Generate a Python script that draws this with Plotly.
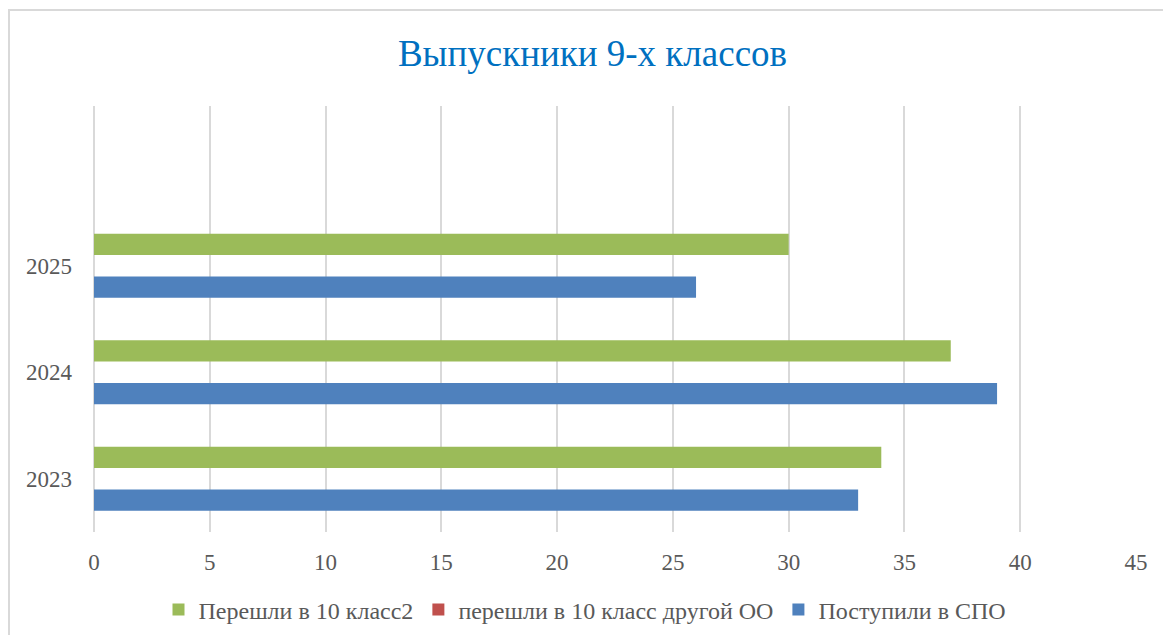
import plotly.graph_objects as go

years = ["2023", "2024", "2025"]
spo = [33, 39, 26]          # Поступили в СПО
other_oo = [0, 0, 0]        # перешли в 10 класс другой ОО
grade10 = [34, 37, 30]      # Перешли в 10 класс2

x_ticks = [0, 5, 10, 15, 20, 25, 30, 35, 40, 45]

# page body has an 8px margin, so the figure is drawn 8px in from the window edge
W, H = 1163, 627
L, R, T, B = 86, 35, 98, 103
pw, ph = W - L - R, H - T - B

def px_x(p):
    return (p - L) / pw

def px_y(p):
    return (H - B - p) / ph

fig = go.Figure()
fig.add_trace(go.Bar(y=years, x=spo, orientation="h", name="Поступили в СПО",
                     marker=dict(color="#4F81BD", line=dict(width=0))))
fig.add_trace(go.Bar(y=years, x=other_oo, orientation="h", name="перешли в 10 класс другой ОО",
                     marker=dict(color="#C0504D", line=dict(width=0))))
fig.add_trace(go.Bar(y=years, x=grade10, orientation="h", name="Перешли в 10 класс2",
                     marker=dict(color="#9BBB59", line=dict(width=0))))

font_family = "Liberation Serif"

fig.update_layout(
    width=W, height=H,
    margin=dict(l=L, r=R, t=T, b=B),
    paper_bgcolor="white", plot_bgcolor="white",
    barmode="group", bargap=0.4, bargroupgap=0,
    font=dict(family=font_family, color="#595959", size=23),
    title=dict(text="Выпускники 9-х классов", x=584.5 / W, xanchor="center",
               y=1 - 45 / H, yanchor="middle", yref="container",
               font=dict(family=font_family, size=37, color="#0070C0")),
    xaxis=dict(range=[0, 45], tickvals=x_ticks, showgrid=True,
               gridcolor="#D9D9D9", gridwidth=1.5, zeroline=True,
               zerolinecolor="#D9D9D9", zerolinewidth=1.5, showline=False,
               ticks="", ticklabelstandoff=14,
               tickfont=dict(family=font_family, size=23, color="#595959")),
    yaxis=dict(type="category", categoryarray=years, range=[-0.5, 3.5],
               showgrid=False, showline=False, ticks="", ticklabelstandoff=21,
               tickfont=dict(family=font_family, size=23, color="#595959")),
    legend=dict(orientation="h", traceorder="reversed", x=577 / W, xanchor="center",
                xref="container", y=1 - 602 / H, yref="container", yanchor="middle",
                font=dict(family=font_family, size=24, color="#595959"), itemwidth=30),
    shapes=[dict(type="rect", xref="paper", yref="paper",
                 x0=px_x(1), y0=px_y(700), x1=px_x(1200), y1=px_y(2),
                 line=dict(color="#D9D9D9", width=2), fillcolor="rgba(0,0,0,0)",
                 layer="above")],
)

fig.write_html("out.html")
